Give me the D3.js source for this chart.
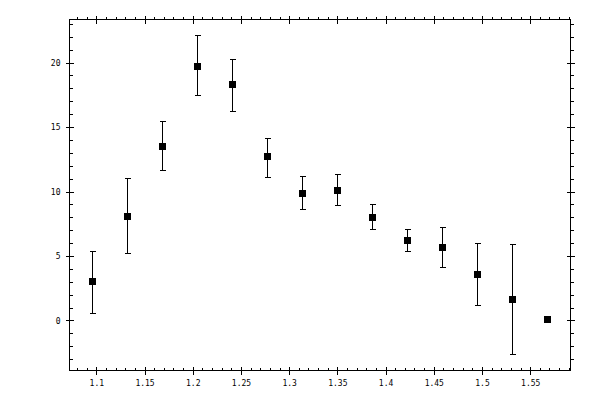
<!DOCTYPE html>
<html>
<head>
<meta charset="utf-8">
<script src="https://cdn.jsdelivr.net/npm/d3@7"></script>
<style>
  body { margin: 0; background: #fff; }
  .axis path { display: none; }
  .axis line { stroke: #000; stroke-width: 1; shape-rendering: crispEdges; }
  .axis text { font-family: "DejaVu Sans Mono", monospace; font-size: 8px; fill: #000; }
</style>
</head>
<body>
<div id="chart"></div>
<script>
var svgWidth = 600;
var svgHeight = 400;

// plot frame in pixels
var frame = { left: 69.5, top: 19.5, right: 570.5, bottom: 370.5 };

// data
var xValues = [1.0958, 1.1322, 1.1685, 1.2048, 1.2412, 1.2775, 1.3138,
  1.3492, 1.3855, 1.4218, 1.4581, 1.4945, 1.5308, 1.5671];
var yValues = [3.03, 8.13, 13.56, 19.77, 18.32, 12.73, 9.91,
  10.15, 8.05, 6.27, 5.72, 3.62, 1.68, 0.13];
var yHigh = [5.36, 11.08, 15.45, 22.10, 20.29, 14.18, 11.23,
  11.34, 9.06, 7.12, 7.27, 6.03, 5.95, 0.13];
var yLow = [0.60, 5.26, 11.70, 17.45, 16.23, 11.16, 8.67,
  8.98, 7.12, 5.41, 4.17, 1.22, -2.59, 0.13];

var xMajor = [1.1, 1.15, 1.2, 1.25, 1.3, 1.35, 1.4, 1.45, 1.5, 1.55];
var xLabels = ["1.1", "1.15", "1.2", "1.25", "1.3", "1.35", "1.4", "1.45", "1.5", "1.55"];
var xMinor = d3.range(108, 160).map(d => d / 100);
var yMajor = [0, 5, 10, 15, 20];
var yMinor = d3.range(-3, 24);

var svg = d3.select("#chart")
  .append("svg")
  .attr("width", svgWidth)
  .attr("height", svgHeight);

var xScale = d3.scaleLinear()
  .domain([1.0722, 1.5918])
  .range([frame.left, frame.right]);

var yScale = d3.scaleLinear()
  .domain([-3.88, 23.34])
  .range([frame.bottom, frame.top]);

// frame
svg.append("rect")
  .attr("x", frame.left)
  .attr("y", frame.top)
  .attr("width", frame.right - frame.left)
  .attr("height", frame.bottom - frame.top)
  .attr("fill", "none")
  .attr("stroke", "#000")
  .attr("shape-rendering", "crispEdges");

// minor ticks: inward on bottom/left, outward on top/right
svg.append("g").attr("class", "axis")
  .attr("transform", `translate(0, ${frame.bottom})`)
  .call(d3.axisTop(xScale).tickValues(xMinor).tickSize(3).tickFormat(""));
svg.append("g").attr("class", "axis")
  .attr("transform", `translate(0, ${frame.top})`)
  .call(d3.axisTop(xScale).tickValues(xMinor).tickSize(3).tickFormat(""));
svg.append("g").attr("class", "axis")
  .attr("transform", `translate(${frame.left}, 0)`)
  .call(d3.axisRight(yScale).tickValues(yMinor).tickSize(3).tickFormat(""));
svg.append("g").attr("class", "axis")
  .attr("transform", `translate(${frame.right}, 0)`)
  .call(d3.axisRight(yScale).tickValues(yMinor).tickSize(3).tickFormat(""));

// major ticks cross the frame line
var bottomAxis = svg.append("g").attr("class", "axis")
  .attr("transform", `translate(0, ${frame.bottom})`)
  .call(d3.axisBottom(xScale).tickValues(xMajor).tickSize(4).tickPadding(6)
    .tickFormat((d, i) => xLabels[i]));
bottomAxis.selectAll("line").attr("y1", -4);

var topAxis = svg.append("g").attr("class", "axis")
  .attr("transform", `translate(0, ${frame.top})`)
  .call(d3.axisTop(xScale).tickValues(xMajor).tickSize(4).tickFormat(""));
topAxis.selectAll("line").attr("y1", 4);

var leftAxis = svg.append("g").attr("class", "axis")
  .attr("transform", `translate(${frame.left}, 0)`)
  .call(d3.axisLeft(yScale).tickValues(yMajor).tickSize(4).tickPadding(5));
leftAxis.selectAll("line").attr("x1", 4);

var rightAxis = svg.append("g").attr("class", "axis")
  .attr("transform", `translate(${frame.right}, 0)`)
  .call(d3.axisRight(yScale).tickValues(yMajor).tickSize(4).tickFormat(""));
rightAxis.selectAll("line").attr("x1", -4);

// error bars
var bars = svg.append("g")
  .attr("stroke", "#000")
  .attr("stroke-width", 1)
  .attr("shape-rendering", "crispEdges");

xValues.forEach(function(x, i) {
  if (yHigh[i] === yLow[i]) return;
  var px = Math.round(xScale(x)) + 0.5;
  bars.append("line")
    .attr("x1", px).attr("x2", px)
    .attr("y1", yScale(yHigh[i])).attr("y2", yScale(yLow[i]));
  bars.append("line")
    .attr("x1", px - 3).attr("x2", px + 3)
    .attr("y1", Math.round(yScale(yHigh[i])) + 0.5)
    .attr("y2", Math.round(yScale(yHigh[i])) + 0.5);
  bars.append("line")
    .attr("x1", px - 3).attr("x2", px + 3)
    .attr("y1", Math.round(yScale(yLow[i])) + 0.5)
    .attr("y2", Math.round(yScale(yLow[i])) + 0.5);
});

// square markers
svg.append("g").selectAll("rect")
  .data(xValues)
  .enter()
  .append("rect")
  .attr("x", d => Math.round(xScale(d)) - 3)
  .attr("y", (d, i) => Math.round(yScale(yValues[i])) - 3)
  .attr("width", 7)
  .attr("height", 7)
  .attr("fill", "#000")
  .attr("shape-rendering", "crispEdges");
</script>
</body>
</html>
